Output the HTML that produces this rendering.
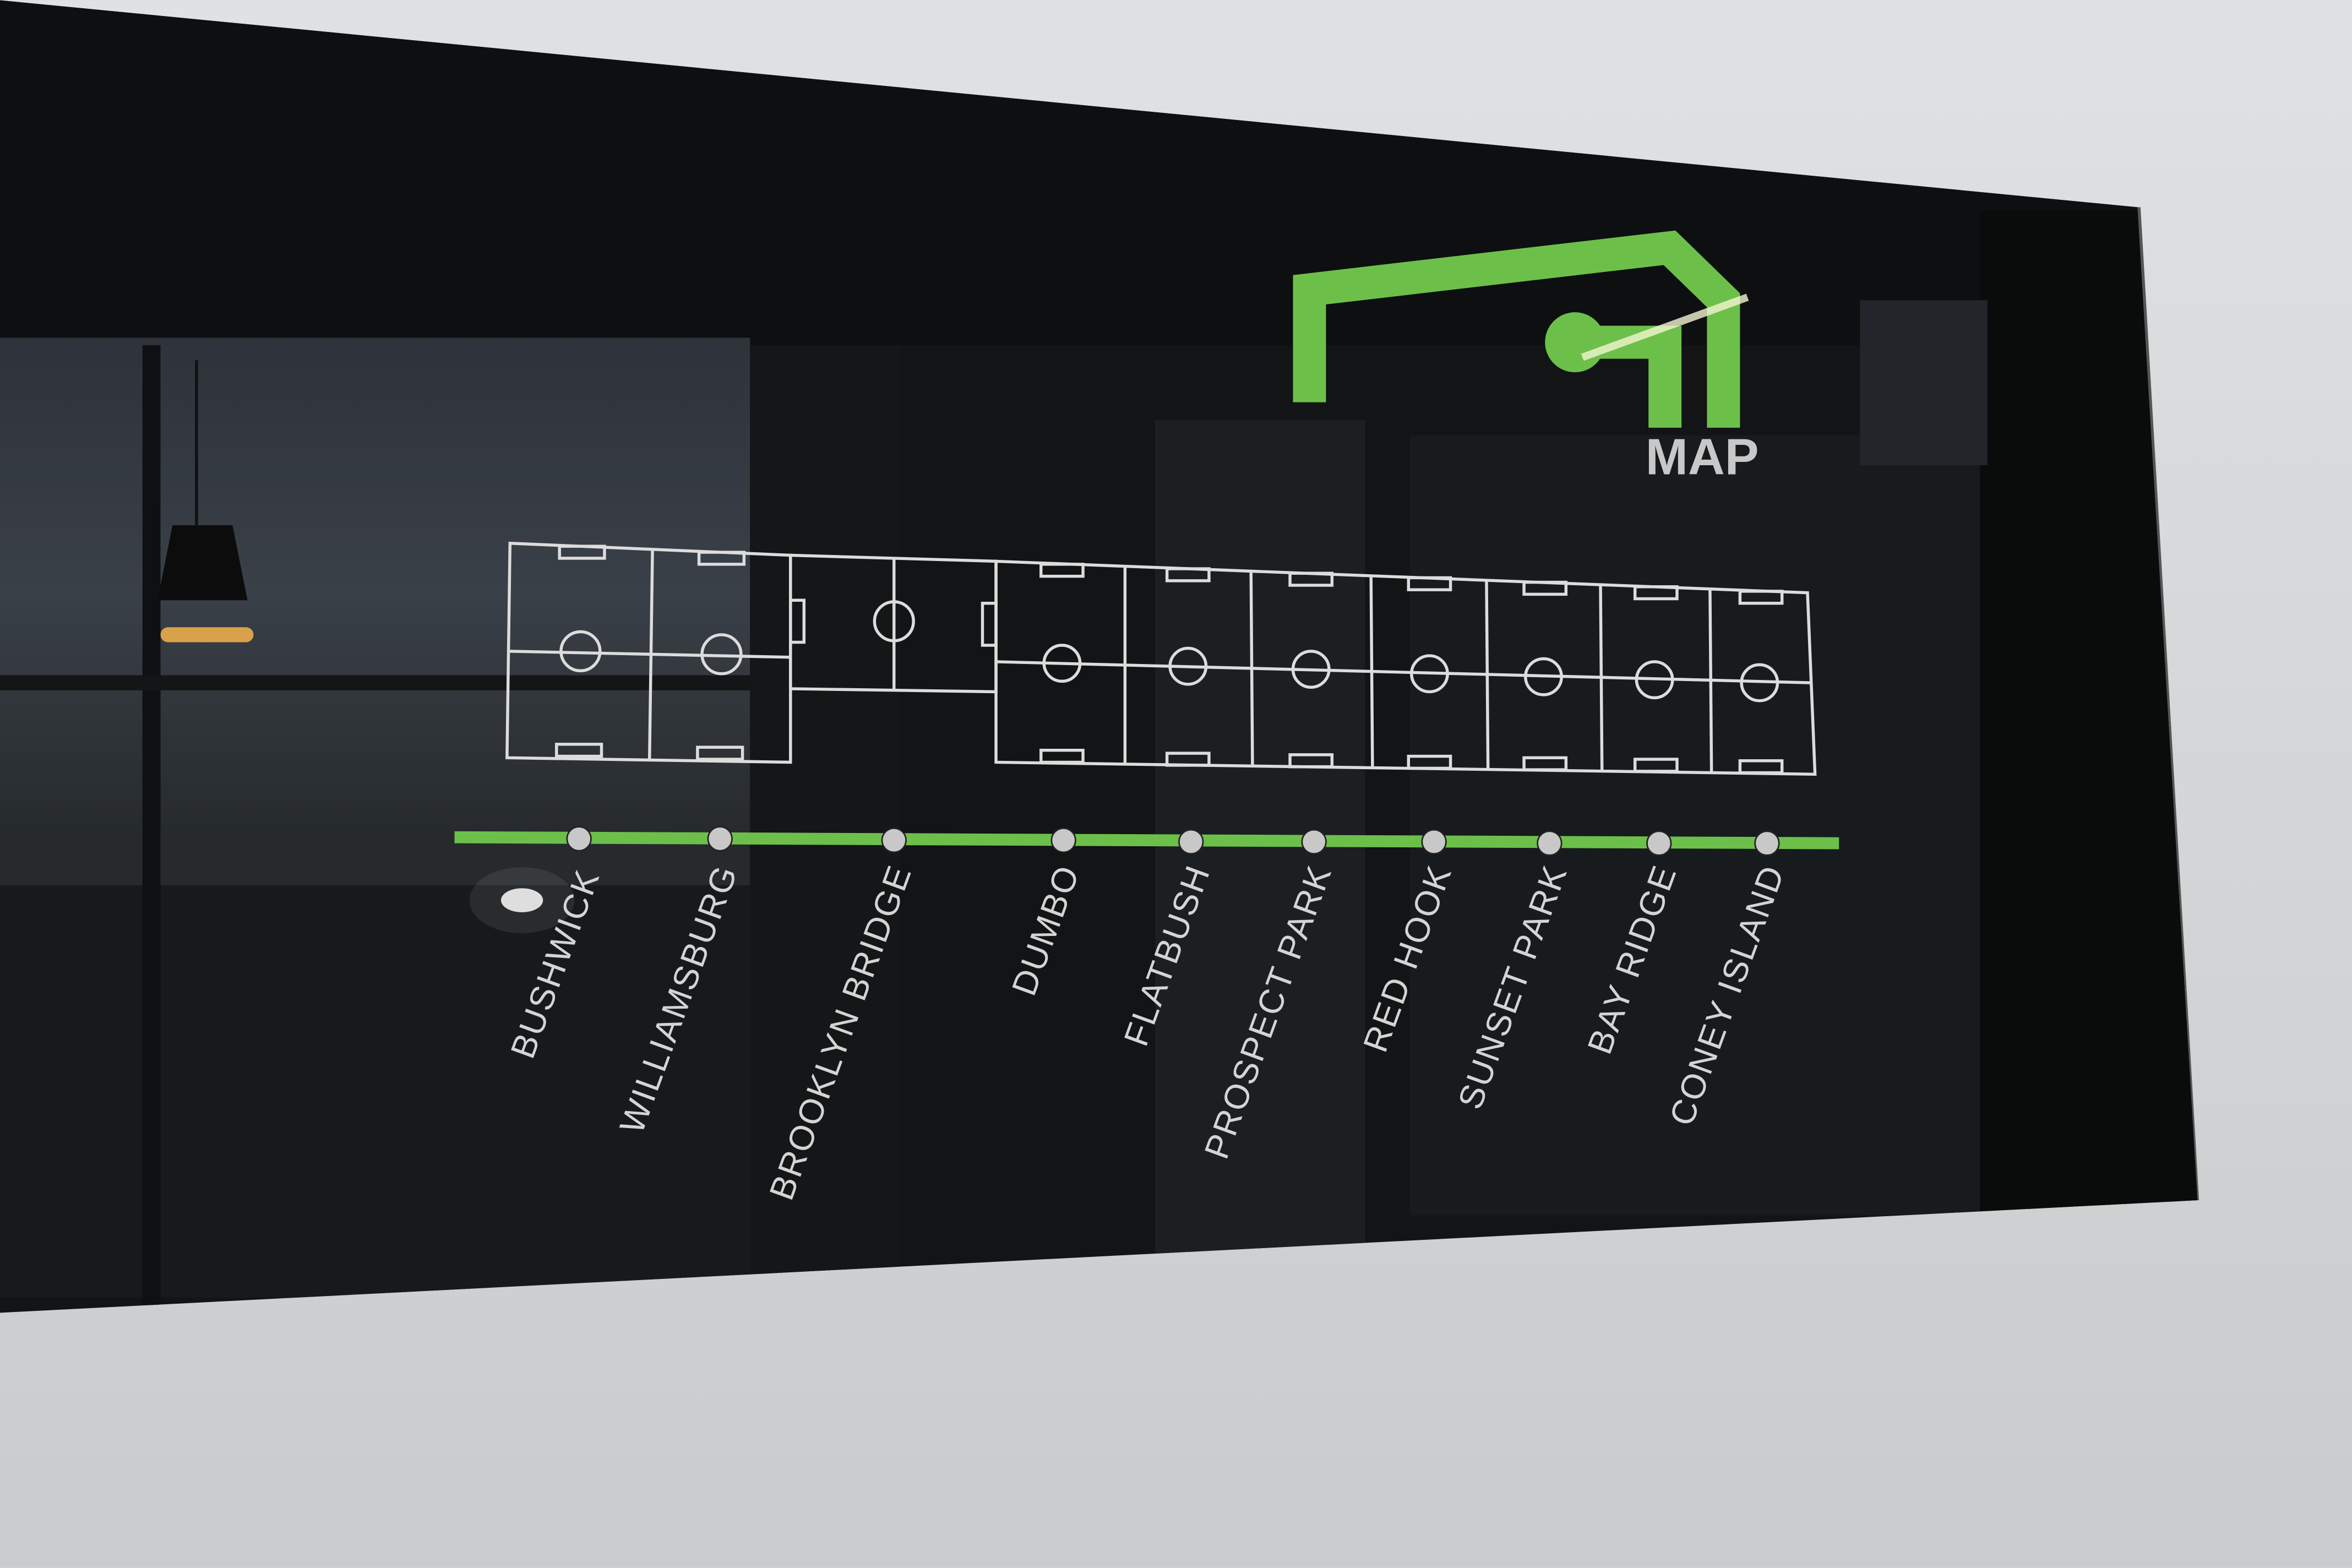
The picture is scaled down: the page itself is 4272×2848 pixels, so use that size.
<!DOCTYPE html>
<html><head><meta charset="utf-8"><style>
html,body{margin:0;padding:0;width:4272px;height:2848px;overflow:hidden;background:#d9dbdd}
svg{display:block}
</style></head><body>
<svg width="4272" height="2848" viewBox="0 0 1568 1045" xmlns="http://www.w3.org/2000/svg">
<defs>
<linearGradient id="wall" x1="0" y1="0" x2="0" y2="1"><stop offset="0" stop-color="#dfe1e3"/><stop offset="1" stop-color="#c9cbcd"/></linearGradient>
<linearGradient id="win" x1="0" y1="0" x2="0" y2="1"><stop offset="0" stop-color="#2e333a"/><stop offset="0.5" stop-color="#3a4048"/><stop offset="1" stop-color="#25292b"/></linearGradient>
<clipPath id="panel"><polygon points="0,0 1425,138 1465,800 0,875"/></clipPath>
</defs>
<rect width="1568" height="1045" fill="url(#wall)"/>
<polygon points="0,0 1425,138 1465,800 0,875" fill="#121415"/>
<g clip-path="url(#panel)">
  <rect x="0" y="0" width="1500" height="230" fill="#0d0f10"/>
  <rect x="0" y="225" width="500" height="340" fill="url(#win)"/>
  <rect x="0" y="565" width="500" height="300" fill="#171a1c"/>
  <rect x="0" y="560" width="500" height="30" fill="#262a2d"/>
  <rect x="95" y="230" width="12" height="640" fill="#0e1011"/>
  <rect x="0" y="450" width="520" height="10" fill="#131516"/>
  <rect x="500" y="230" width="100" height="640" fill="#141617"/>
  <rect x="770" y="280" width="140" height="560" fill="#1b1f22"/>
  <rect x="940" y="290" width="380" height="520" fill="#181b1e"/>
  <rect x="1320" y="140" width="150" height="700" fill="#0a0b0b"/>
  <rect x="1240" y="200" width="85" height="110" fill="#22262a"/>
  <polygon points="105,400 115,350 155,350 165,400" fill="#0c0c0c"/>
  <rect x="107" y="418" width="62" height="10" rx="5" fill="#d9a24a"/>
  <rect x="130" y="240" width="2" height="110" fill="#111"/>
  <ellipse cx="348" cy="600" rx="14" ry="8" fill="#ffffff" opacity="0.85"/>
  <ellipse cx="348" cy="600" rx="35" ry="22" fill="#ffffff" opacity="0.08"/>
</g>
<polygon points="1425,138 1465,800 1466,800 1427,138" fill="#555"/>

<!-- logo -->
<g fill="none" stroke="#6cc04a" stroke-width="22">
  <polyline points="873,268 873,193 1113,165 1149,200 1149,285"/>
  <polyline points="1050,228 1110,228 1110,285"/>
</g>
<circle cx="1050" cy="228" r="20" fill="#6cc04a"/>
<path d="M1055,238 L1165,198" stroke="#f4f6d0" stroke-width="5" opacity="0.8"/>
<text x="1097" y="316" font-family="Liberation Sans, sans-serif" font-weight="bold" font-size="34" fill="#c8c8c8">MAP</text>

<!-- pitches -->
<g fill="none" stroke="#dcdcdc" stroke-width="2">
  <polygon points="340,362 527,370 527,508 338,505"/>
  <line x1="435" y1="366" x2="433" y2="506"/>
  <line x1="340" y1="434" x2="527" y2="438"/>
  <circle cx="387" cy="434" r="13"/><circle cx="481" cy="436" r="13"/>
  <rect x="373" y="364" width="30" height="8"/><rect x="466" y="368" width="30" height="8"/>
  <rect x="371" y="496" width="30" height="8"/><rect x="465" y="498" width="30" height="8"/>
  <polygon points="527,370 664,374 664,461 527,459"/>
  <line x1="596" y1="372" x2="596" y2="460"/>
  <circle cx="596" cy="414" r="13"/>
  <rect x="527" y="400" width="9" height="28"/><rect x="655" y="402" width="9" height="28"/>
  <polygon points="664,374 1205,395 1210,516 664,508"/>
  <line x1="750" y1="377" x2="750" y2="509"/>
  <line x1="834" y1="381" x2="835" y2="511"/>
  <line x1="914" y1="384" x2="915" y2="512"/>
  <line x1="991" y1="387" x2="992" y2="513"/>
  <line x1="1067" y1="390" x2="1068" y2="514"/>
  <line x1="1140" y1="393" x2="1141" y2="515"/>
  <line x1="664" y1="441" x2="1207" y2="455"/>
  <circle cx="708" cy="442" r="12"/><circle cx="792" cy="444" r="12"/><circle cx="874" cy="446" r="12"/>
  <circle cx="953" cy="449" r="12"/><circle cx="1029" cy="451" r="12"/><circle cx="1103" cy="453" r="12"/><circle cx="1173" cy="455" r="12"/>
  <rect x="694" y="376" width="28" height="8"/><rect x="778" y="379" width="28" height="8"/><rect x="860" y="382" width="28" height="8"/>
  <rect x="939" y="385" width="28" height="8"/><rect x="1016" y="388" width="28" height="8"/><rect x="1090" y="391" width="28" height="8"/><rect x="1160" y="394" width="28" height="8"/>
  <rect x="694" y="500" width="28" height="8"/><rect x="778" y="502" width="28" height="8"/><rect x="860" y="503" width="28" height="8"/>
  <rect x="939" y="504" width="28" height="8"/><rect x="1016" y="505" width="28" height="8"/><rect x="1090" y="506" width="28" height="8"/><rect x="1160" y="507" width="28" height="8"/>
</g>

<!-- line -->
<line x1="303" y1="558" x2="1226" y2="562" stroke="#6cc04a" stroke-width="8"/>
<g fill="#c8c8c8" stroke="#222" stroke-width="1">
  <circle cx="386" cy="559" r="8"/><circle cx="480" cy="559" r="8"/><circle cx="596" cy="560" r="8"/>
  <circle cx="709" cy="560" r="8"/><circle cx="794" cy="561" r="8"/><circle cx="876" cy="561" r="8"/>
  <circle cx="956" cy="561" r="8"/><circle cx="1033" cy="562" r="8"/><circle cx="1106" cy="562" r="8"/><circle cx="1178" cy="562" r="8"/>
</g>
<g font-family="Liberation Sans, sans-serif" font-size="23" fill="#d4d4d4" text-anchor="end" letter-spacing="1">
  <text transform="translate(400,583) rotate(-70)">BUSHWICK</text>
  <text transform="translate(492,580) rotate(-70)">WILLIAMSBURG</text>
  <text transform="translate(608,580) rotate(-70)">BROOKLYN BRIDGE</text>
  <text transform="translate(720,580) rotate(-70)">DUMBO</text>
  <text transform="translate(807,580) rotate(-70)">FLATBUSH</text>
  <text transform="translate(888,580) rotate(-70)">PROSPECT PARK</text>
  <text transform="translate(968,580) rotate(-70)">RED HOOK</text>
  <text transform="translate(1045,580) rotate(-70)">SUNSET PARK</text>
  <text transform="translate(1118,580) rotate(-70)">BAY RIDGE</text>
  <text transform="translate(1190,580) rotate(-70)">CONEY ISLAND</text>
</g>
</svg>
</body></html>
